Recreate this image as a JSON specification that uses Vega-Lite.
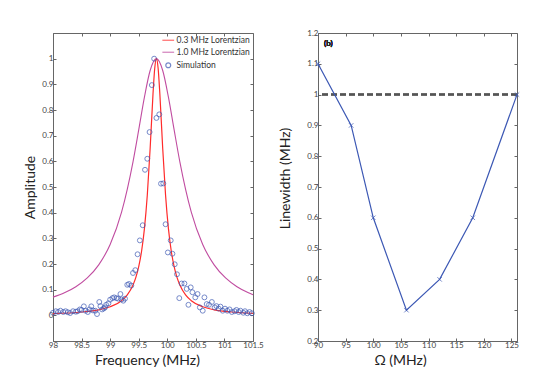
{
  "$schema": "https://vega.github.io/schema/vega-lite/v6.json",
  "background": "white",
  "padding": {"left": 23, "top": 28, "right": 5, "bottom": 5},
  "spacing": 14,
  "resolve": {"scale": {"color": "independent", "shape": "independent"}, "legend": {"color": "independent", "shape": "independent"}},
  "config": {
    "font": "Lato",
    "view": {"stroke": "#666", "strokeWidth": 1},
    "axis": {"grid": false, "domainColor": "#666", "tickColor": "#666", "tickSize": -3, "labelFont": "Lato", "labelFontSize": 8, "labelColor": "#444", "titleFont": "Lato", "titleFontSize": 14, "titleFontWeight": "normal", "titleColor": "#222", "labelPadding": 3, "labelFlush": false, "labelOverlap": false, "titlePadding": 4},
    "legend": {"orient": "top-right", "offset": 3, "labelFontSize": 8.5, "labelColor": "#333", "labelFont": "Lato", "symbolStrokeWidth": 1.2, "symbolSize": 24, "rowPadding": 3, "labelOffset": 4, "padding": 0}
  },
  "datasets": {
    "red": [
      {"f": 98.0, "a": 0.0068, "series": "0.3 MHz Lorentzian"},
      {"f": 98.5, "a": 0.0129, "series": "0.3 MHz Lorentzian"},
      {"f": 98.8, "a": 0.0216, "series": "0.3 MHz Lorentzian"},
      {"f": 99.0, "a": 0.0332, "series": "0.3 MHz Lorentzian"},
      {"f": 99.2, "a": 0.057, "series": "0.3 MHz Lorentzian"},
      {"f": 99.3, "a": 0.0796, "series": "0.3 MHz Lorentzian"},
      {"f": 99.4, "a": 0.118, "series": "0.3 MHz Lorentzian"},
      {"f": 99.45, "a": 0.148, "series": "0.3 MHz Lorentzian"},
      {"f": 99.5, "a": 0.19, "series": "0.3 MHz Lorentzian"},
      {"f": 99.55, "a": 0.2497, "series": "0.3 MHz Lorentzian"},
      {"f": 99.6, "a": 0.338, "series": "0.3 MHz Lorentzian"},
      {"f": 99.65, "a": 0.468, "series": "0.3 MHz Lorentzian"},
      {"f": 99.7, "a": 0.65, "series": "0.3 MHz Lorentzian"},
      {"f": 99.75, "a": 0.862, "series": "0.3 MHz Lorentzian"},
      {"f": 99.78, "a": 0.9615, "series": "0.3 MHz Lorentzian"},
      {"f": 99.81, "a": 1.0, "series": "0.3 MHz Lorentzian"},
      {"f": 99.84, "a": 0.9615, "series": "0.3 MHz Lorentzian"},
      {"f": 99.87, "a": 0.862, "series": "0.3 MHz Lorentzian"},
      {"f": 99.92, "a": 0.65, "series": "0.3 MHz Lorentzian"},
      {"f": 99.97, "a": 0.468, "series": "0.3 MHz Lorentzian"},
      {"f": 100.02, "a": 0.338, "series": "0.3 MHz Lorentzian"},
      {"f": 100.07, "a": 0.2497, "series": "0.3 MHz Lorentzian"},
      {"f": 100.12, "a": 0.19, "series": "0.3 MHz Lorentzian"},
      {"f": 100.17, "a": 0.148, "series": "0.3 MHz Lorentzian"},
      {"f": 100.22, "a": 0.118, "series": "0.3 MHz Lorentzian"},
      {"f": 100.32, "a": 0.0796, "series": "0.3 MHz Lorentzian"},
      {"f": 100.42, "a": 0.057, "series": "0.3 MHz Lorentzian"},
      {"f": 100.62, "a": 0.0332, "series": "0.3 MHz Lorentzian"},
      {"f": 100.82, "a": 0.0216, "series": "0.3 MHz Lorentzian"},
      {"f": 101.12, "a": 0.0129, "series": "0.3 MHz Lorentzian"},
      {"f": 101.5, "a": 0.0078, "series": "0.3 MHz Lorentzian"}
    ],
    "purple": [
      {"f": 98.0, "a": 0.0709, "series": "1.0 MHz Lorentzian"},
      {"f": 98.2, "a": 0.088, "series": "1.0 MHz Lorentzian"},
      {"f": 98.4, "a": 0.1117, "series": "1.0 MHz Lorentzian"},
      {"f": 98.6, "a": 0.1458, "series": "1.0 MHz Lorentzian"},
      {"f": 98.8, "a": 0.1968, "series": "1.0 MHz Lorentzian"},
      {"f": 99.0, "a": 0.2759, "series": "1.0 MHz Lorentzian"},
      {"f": 99.2, "a": 0.4019, "series": "1.0 MHz Lorentzian"},
      {"f": 99.4, "a": 0.598, "series": "1.0 MHz Lorentzian"},
      {"f": 99.5, "a": 0.7223, "series": "1.0 MHz Lorentzian"},
      {"f": 99.6, "a": 0.85, "series": "1.0 MHz Lorentzian"},
      {"f": 99.7, "a": 0.9538, "series": "1.0 MHz Lorentzian"},
      {"f": 99.81, "a": 1.0, "series": "1.0 MHz Lorentzian"},
      {"f": 99.92, "a": 0.9538, "series": "1.0 MHz Lorentzian"},
      {"f": 100.02, "a": 0.85, "series": "1.0 MHz Lorentzian"},
      {"f": 100.12, "a": 0.7223, "series": "1.0 MHz Lorentzian"},
      {"f": 100.22, "a": 0.598, "series": "1.0 MHz Lorentzian"},
      {"f": 100.42, "a": 0.4019, "series": "1.0 MHz Lorentzian"},
      {"f": 100.62, "a": 0.2759, "series": "1.0 MHz Lorentzian"},
      {"f": 100.82, "a": 0.1968, "series": "1.0 MHz Lorentzian"},
      {"f": 101.02, "a": 0.1458, "series": "1.0 MHz Lorentzian"},
      {"f": 101.22, "a": 0.1117, "series": "1.0 MHz Lorentzian"},
      {"f": 101.42, "a": 0.088, "series": "1.0 MHz Lorentzian"},
      {"f": 101.5, "a": 0.0805, "series": "1.0 MHz Lorentzian"}
    ],
    "sim": [
      {"f": 98.00, "a": 0.010, "series": "Simulation"},
      {"f": 98.05, "a": 0.016, "series": "Simulation"},
      {"f": 98.09, "a": 0.013, "series": "Simulation"},
      {"f": 98.13, "a": 0.018, "series": "Simulation"},
      {"f": 98.18, "a": 0.013, "series": "Simulation"},
      {"f": 98.22, "a": 0.016, "series": "Simulation"},
      {"f": 98.26, "a": 0.012, "series": "Simulation"},
      {"f": 98.30, "a": 0.009, "series": "Simulation"},
      {"f": 98.35, "a": 0.016, "series": "Simulation"},
      {"f": 98.40, "a": 0.014, "series": "Simulation"},
      {"f": 98.43, "a": 0.016, "series": "Simulation"},
      {"f": 98.47, "a": 0.023, "series": "Simulation"},
      {"f": 98.50, "a": 0.021, "series": "Simulation"},
      {"f": 98.54, "a": 0.035, "series": "Simulation"},
      {"f": 98.57, "a": 0.018, "series": "Simulation"},
      {"f": 98.61, "a": 0.013, "series": "Simulation"},
      {"f": 98.64, "a": 0.023, "series": "Simulation"},
      {"f": 98.67, "a": 0.035, "series": "Simulation"},
      {"f": 98.70, "a": 0.019, "series": "Simulation"},
      {"f": 98.74, "a": 0.018, "series": "Simulation"},
      {"f": 98.77, "a": 0.005, "series": "Simulation"},
      {"f": 98.81, "a": 0.052, "series": "Simulation"},
      {"f": 98.83, "a": 0.036, "series": "Simulation"},
      {"f": 98.86, "a": 0.023, "series": "Simulation"},
      {"f": 98.89, "a": 0.027, "series": "Simulation"},
      {"f": 98.91, "a": 0.031, "series": "Simulation"},
      {"f": 98.93, "a": 0.041, "series": "Simulation"},
      {"f": 98.97, "a": 0.047, "series": "Simulation"},
      {"f": 99.00, "a": 0.061, "series": "Simulation"},
      {"f": 99.04, "a": 0.067, "series": "Simulation"},
      {"f": 99.07, "a": 0.070, "series": "Simulation"},
      {"f": 99.11, "a": 0.067, "series": "Simulation"},
      {"f": 99.14, "a": 0.065, "series": "Simulation"},
      {"f": 99.18, "a": 0.083, "series": "Simulation"},
      {"f": 99.20, "a": 0.062, "series": "Simulation"},
      {"f": 99.23, "a": 0.057, "series": "Simulation"},
      {"f": 99.26, "a": 0.065, "series": "Simulation"},
      {"f": 99.30, "a": 0.119, "series": "Simulation"},
      {"f": 99.33, "a": 0.122, "series": "Simulation"},
      {"f": 99.37, "a": 0.116, "series": "Simulation"},
      {"f": 99.40, "a": 0.165, "series": "Simulation"},
      {"f": 99.44, "a": 0.176, "series": "Simulation"},
      {"f": 99.48, "a": 0.238, "series": "Simulation"},
      {"f": 99.52, "a": 0.292, "series": "Simulation"},
      {"f": 99.57, "a": 0.351, "series": "Simulation"},
      {"f": 99.61, "a": 0.567, "series": "Simulation"},
      {"f": 99.65, "a": 0.610, "series": "Simulation"},
      {"f": 99.69, "a": 0.714, "series": "Simulation"},
      {"f": 99.73, "a": 0.897, "series": "Simulation"},
      {"f": 99.77, "a": 1.000, "series": "Simulation"},
      {"f": 99.81, "a": 0.769, "series": "Simulation"},
      {"f": 99.86, "a": 0.783, "series": "Simulation"},
      {"f": 99.89, "a": 0.513, "series": "Simulation"},
      {"f": 99.93, "a": 0.514, "series": "Simulation"},
      {"f": 99.97, "a": 0.355, "series": "Simulation"},
      {"f": 100.01, "a": 0.245, "series": "Simulation"},
      {"f": 100.06, "a": 0.292, "series": "Simulation"},
      {"f": 100.09, "a": 0.240, "series": "Simulation"},
      {"f": 100.13, "a": 0.199, "series": "Simulation"},
      {"f": 100.17, "a": 0.160, "series": "Simulation"},
      {"f": 100.21, "a": 0.067, "series": "Simulation"},
      {"f": 100.25, "a": 0.124, "series": "Simulation"},
      {"f": 100.30, "a": 0.124, "series": "Simulation"},
      {"f": 100.34, "a": 0.103, "series": "Simulation"},
      {"f": 100.37, "a": 0.041, "series": "Simulation"},
      {"f": 100.41, "a": 0.109, "series": "Simulation"},
      {"f": 100.44, "a": 0.090, "series": "Simulation"},
      {"f": 100.49, "a": 0.070, "series": "Simulation"},
      {"f": 100.53, "a": 0.083, "series": "Simulation"},
      {"f": 100.57, "a": 0.031, "series": "Simulation"},
      {"f": 100.62, "a": 0.018, "series": "Simulation"},
      {"f": 100.65, "a": 0.070, "series": "Simulation"},
      {"f": 100.69, "a": 0.044, "series": "Simulation"},
      {"f": 100.73, "a": 0.041, "series": "Simulation"},
      {"f": 100.78, "a": 0.052, "series": "Simulation"},
      {"f": 100.83, "a": 0.031, "series": "Simulation"},
      {"f": 100.86, "a": 0.036, "series": "Simulation"},
      {"f": 100.90, "a": 0.026, "series": "Simulation"},
      {"f": 100.93, "a": 0.034, "series": "Simulation"},
      {"f": 100.97, "a": 0.018, "series": "Simulation"},
      {"f": 101.01, "a": 0.026, "series": "Simulation"},
      {"f": 101.05, "a": 0.018, "series": "Simulation"},
      {"f": 101.09, "a": 0.023, "series": "Simulation"},
      {"f": 101.13, "a": 0.013, "series": "Simulation"},
      {"f": 101.18, "a": 0.016, "series": "Simulation"},
      {"f": 101.21, "a": 0.021, "series": "Simulation"},
      {"f": 101.25, "a": 0.013, "series": "Simulation"},
      {"f": 101.28, "a": 0.018, "series": "Simulation"},
      {"f": 101.33, "a": 0.010, "series": "Simulation"},
      {"f": 101.36, "a": 0.016, "series": "Simulation"},
      {"f": 101.40, "a": 0.008, "series": "Simulation"},
      {"f": 101.44, "a": 0.013, "series": "Simulation"},
      {"f": 101.48, "a": 0.008, "series": "Simulation"}
    ],
    "lw": [
      {"omega": 90, "linewidth": 1.1},
      {"omega": 96, "linewidth": 0.9},
      {"omega": 100, "linewidth": 0.6},
      {"omega": 106, "linewidth": 0.3},
      {"omega": 112, "linewidth": 0.4},
      {"omega": 118, "linewidth": 0.6},
      {"omega": 126, "linewidth": 1.0}
    ]
  },
  "hconcat": [
    {
      "width": 200,
      "height": 308,
      "resolve": {"axis": {"x": "independent", "y": "independent"}},
      "layer": [
        {
          "data": {"name": "purple"},
          "mark": {"type": "line", "strokeWidth": 1.1, "interpolate": "monotone"},
          "encoding": {
            "x": {"field": "f", "type": "quantitative", "scale": {"domain": [98, 101.5], "nice": false, "zero": false},
                  "axis": {"title": "Frequency (MHz)", "format": "~g", "titleX": 94, "values": [98, 98.5, 99, 99.5, 100, 100.5, 101, 101.5]}},
            "y": {"field": "a", "type": "quantitative", "scale": {"domain": [-0.1, 1.1], "nice": false, "zero": false},
                  "axis": {"title": "Amplitude", "labelExpr": "abs(datum.value) < 0.05 ? '0' : format(datum.value, '~g')", "labelOverlap": false, "labelBound": false, "values": [0, 0.1, 0.2, 0.3, 0.4, 0.5, 0.6, 0.7, 0.8, 0.9, 1]}},
            "color": {"field": "series", "type": "nominal",
                      "scale": {"domain": ["0.3 MHz Lorentzian", "1.0 MHz Lorentzian", "Simulation"], "range": ["#ff2b2b", "#c04ca0", "#3c58b4"]},
                      "legend": {"title": null, "orient": "top-right"}}
          }
        },
        {
          "data": {"name": "red"},
          "mark": {"type": "line", "strokeWidth": 1.2, "interpolate": "monotone"},
          "encoding": {
            "x": {"field": "f", "type": "quantitative",
                  "axis": {"orient": "top", "labels": false, "title": null, "domain": false, "values": [98, 98.5, 99, 99.5, 100, 100.5, 101, 101.5]}},
            "y": {"field": "a", "type": "quantitative",
                  "axis": {"orient": "right", "labels": false, "title": null, "domain": false, "values": [0, 0.1, 0.2, 0.3, 0.4, 0.5, 0.6, 0.7, 0.8, 0.9, 1]}},
            "color": {"field": "series", "type": "nominal", "legend": {"title": null, "orient": "top-right"}}
          }
        },
        {
          "data": {"name": "sim"},
          "mark": {"type": "point", "filled": false, "strokeWidth": 1, "size": 24},
          "encoding": {
            "x": {"field": "f", "type": "quantitative", "axis": null},
            "y": {"field": "a", "type": "quantitative", "axis": null},
            "color": {"field": "series", "type": "nominal", "legend": {"title": null, "orient": "top-right"}},
            "shape": {"field": "series", "type": "nominal",
                      "scale": {"domain": ["0.3 MHz Lorentzian", "1.0 MHz Lorentzian", "Simulation"], "range": ["M-2.4,0L2.4,0", "M-2.4,0L2.4,0", "circle"]},
                      "legend": {"title": null, "orient": "top-right"}}
          }
        },
        {
          "mark": {"type": "text", "align": "left", "baseline": "middle", "fontSize": 8, "font": "Lato", "color": "#222"},
          "encoding": {
            "x": {"datum": 98.15, "type": "quantitative", "axis": null},
            "y": {"datum": 1.047, "type": "quantitative", "axis": null},
            "text": {"value": "(a)"}
          }
        }
      ]
    },
    {
      "width": 199,
      "height": 308,
      "data": {"name": "lw"},
      "resolve": {"axis": {"x": "independent", "y": "independent"}},
      "layer": [
        {
          "mark": {"type": "rule", "color": "#555", "strokeDash": [6, 3], "strokeWidth": 1.5},
          "encoding": {
            "y": {"datum": 1, "type": "quantitative", "scale": {"domain": [0.2, 1.2], "nice": false, "zero": false}, "axis": null}
          }
        },
        {
          "mark": {"type": "line", "color": "#3c58b4", "strokeWidth": 1.2},
          "encoding": {
            "x": {"field": "omega", "type": "quantitative", "scale": {"domain": [90, 126], "nice": false, "zero": false},
                  "axis": {"title": "Ω (MHz)", "titleX": 82, "values": [90, 95, 100, 105, 110, 115, 120, 125]}},
            "y": {"field": "linewidth", "type": "quantitative",
                  "axis": {"title": "Linewidth (MHz)", "titleY": 145, "titlePadding": 14, "format": "~g", "values": [0.2, 0.3, 0.4, 0.5, 0.6, 0.7, 0.8, 0.9, 1, 1.1, 1.2]}}
          }
        },
        {
          "mark": {"type": "point", "shape": "M-1,-1L1,1M-1,1L1,-1", "filled": false, "color": "#3c58b4", "strokeWidth": 1, "size": 20},
          "encoding": {
            "x": {"field": "omega", "type": "quantitative",
                  "axis": {"orient": "top", "labels": false, "title": null, "domain": false, "values": [90, 95, 100, 105, 110, 115, 120, 125]}},
            "y": {"field": "linewidth", "type": "quantitative",
                  "axis": {"orient": "right", "labels": false, "title": null, "domain": false, "values": [0.2, 0.3, 0.4, 0.5, 0.6, 0.7, 0.8, 0.9, 1, 1.1, 1.2]}}
          }
        },
        {
          "mark": {"type": "text", "align": "left", "baseline": "middle", "fontSize": 8, "font": "Lato", "color": "#222"},
          "encoding": {
            "x": {"datum": 91.1, "type": "quantitative", "axis": null},
            "y": {"datum": 1.164, "type": "quantitative", "axis": null},
            "text": {"value": "(b)"}
          }
        }
      ]
    }
  ]
}
